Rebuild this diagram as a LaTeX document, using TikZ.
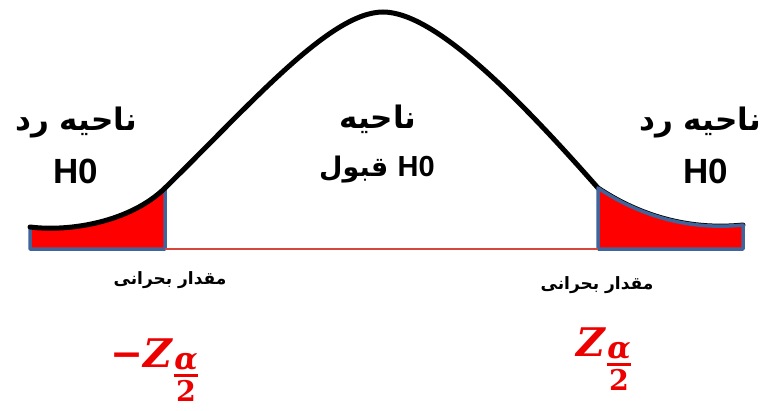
\documentclass[tikz,border=0pt]{standalone}
\usepackage{fontspec}
\usepackage{amsmath}
\setmainfont{Liberation Sans}
\newfontfamily\fafont[Script=Arabic]{DejaVu Sans}
\newfontfamily\zfont{DejaVu Serif}
\TeXXeTstate=1
\definecolor{tailblue}{RGB}{65,100,155}
\definecolor{critred}{RGB}{236,0,0}
\definecolor{axisred}{RGB}{215,70,60}

\newcommand{\halfalpha}{%
    \genfrac{}{}{1.7pt}{1}{\text{\fontsize{16}{18}\selectfont α}}%
        {\text{\fontsize{15}{18}\selectfont\upshape 2}}}

\begin{document}
\begin{tikzpicture}[x=1pt,y=-1pt]

    \tikzset{
        tail/.style={
            draw=tailblue,
            fill=red,
            line width=3.5pt,
            line join=round
        },
        bell/.style={
            draw=black,
            line width=5pt,
            line cap=round
        },
        fatext/.style={
            anchor=base,
            inner sep=0pt,
            font=\fafont\bfseries\fontsize{31}{36}\selectfont
        },
        hnull/.style={
            anchor=base,
            inner sep=0pt,
            font=\bfseries\fontsize{35}{40}\selectfont
        },
        critlabel/.style={
            anchor=base,
            inner sep=0pt,
            font=\fafont\bfseries\fontsize{17}{20}\selectfont
        },
        zlabel/.style={
            anchor=base west,
            inner sep=0pt,
            text=critred,
            scale=1.9,
            font=\huge\zfont\bfseries\itshape
        }
    }

    \useasboundingbox (0,0) rectangle (769,410);

    % points
    \coordinate (lt)  at ( 30,227);
    \coordinate (lb)  at ( 30,249);
    \coordinate (lc)  at (165,188);
    \coordinate (lcb) at (165,249);
    \coordinate (top) at (383, 12);
    \coordinate (rc)  at (598,188);
    \coordinate (rcb) at (598,249);
    \coordinate (rt)  at (743,225);
    \coordinate (rtb) at (743,249);

    % left tail
    \path[tail]
        (lb) -- (lt)
        .. controls ( 70,232) and (130,222) .. (lc)
        -- (lcb) -- cycle;

    % bell curve
    \draw[bell]
        (lt)
        .. controls ( 70,232) and (130,222) .. (lc)
        .. controls (250,105) and (330, 12) .. (top)
        .. controls (436, 12) and (523,103) .. (rc)
        .. controls (625,206) and (675,232) .. (rt);

    % right tail
    \path[tail]
        (rcb) -- (rc)
        .. controls (625,206) and (675,232) .. (rt)
        -- (rtb) -- cycle;

    % axis
    \draw[axisred, line width=1.3pt] (lcb) -- (rcb);

    % labels
    \node[fatext] (rejL) at ( 76,130) {\beginR ناحیه رد\endR};
    \node[hnull]  (hL)   at ( 76,183) {H0};
    \node[fatext] (rejR) at (700,130) {\beginR ناحیه رد\endR};
    \node[hnull]  (hR)   at (706,183) {H0};
    \node[fatext] (acc1) at (378,128) {\beginR ناحیه\endR};
    \node[fatext, font=\fafont\bfseries\fontsize{27}{32}\selectfont]
        (acc2) at (377,176) {\beginR قبول\endR{} {\fontspec{Liberation Sans}\bfseries\fontsize{29}{32}\selectfont H0}};

    \node[critlabel] (critL) at (170,284) {\beginR مقدار بحرانی\endR};
    \node[critlabel] (critR) at (597,289) {\beginR مقدار بحرانی\endR};

    \node[zlabel] (zL) at (110,367) {$\text{−Z}_{\textstyle\halfalpha}$};
    \node[zlabel] (zR) at (576,356) {$\text{Z}_{\textstyle\halfalpha}$};

\end{tikzpicture}
\end{document}
